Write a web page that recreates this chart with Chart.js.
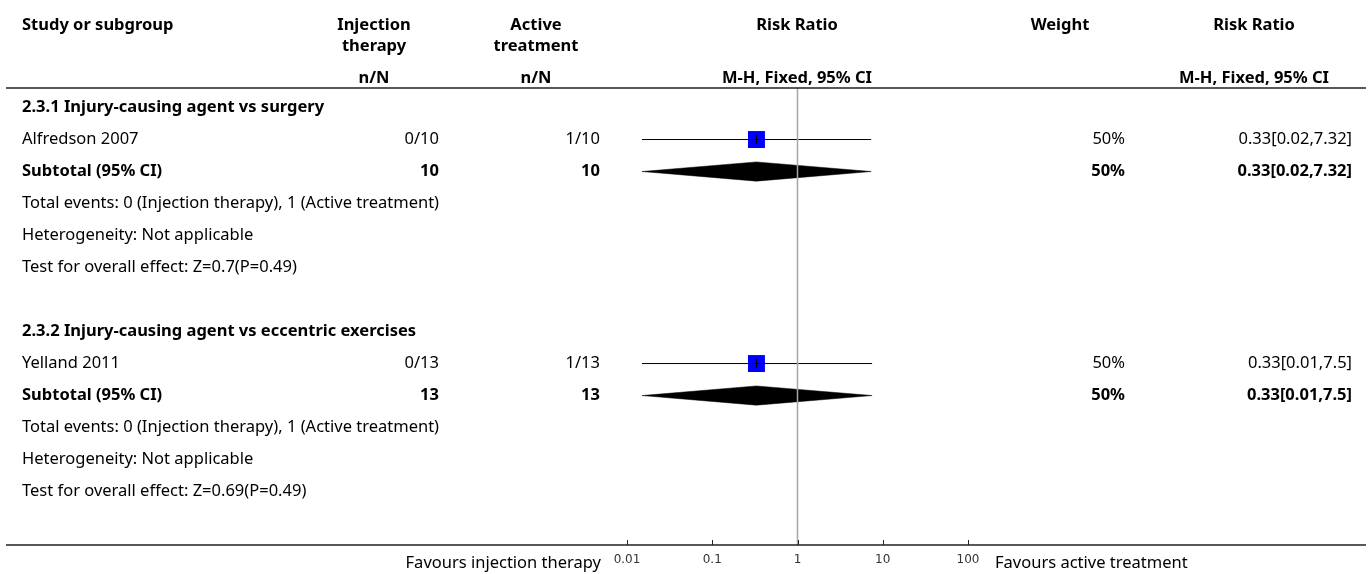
<!DOCTYPE html>
<html>
<head>
<meta charset="utf-8">
<script src="https://cdn.jsdelivr.net/npm/chart.js@4.4.0/dist/chart.umd.min.js"></script>
<style>
  html, body { margin: 0; padding: 0; background: #fff; }
</style>
</head>
<body>
<canvas id="forest" width="1370" height="574"></canvas>
<script>
// subgroups and studies
const groupTitles = ["2.3.1 Injury-causing agent vs surgery", "2.3.2 Injury-causing agent vs eccentric exercises"]
const studyNames = ["Alfredson 2007", "Yelland 2011"]
const injEvents = [0, 0]
const injTotals = [10, 13]
const actEvents = [1, 1]
const actTotals = [10, 13]
const studyWeights = ["50%", "50%"]
// risk ratio per study (point, lower, upper) and printed labels
const riskRatio = [0.33, 0.33]
const ciLower = [0.015, 0.015]
const ciUpper = [7.32, 7.5]
const ciLabels = ["0.33[0.02,7.32]", "0.33[0.01,7.5]"]
// subtotals
const subRatio = [0.33, 0.33]
const subLower = [0.015, 0.015]
const subUpper = [7.32, 7.5]
const subLabels = ["0.33[0.02,7.32]", "0.33[0.01,7.5]"]
const subWeights = ["50%", "50%"]
const heterogeneity = ["Heterogeneity: Not applicable", "Heterogeneity: Not applicable"]
const overallTests = ["Test for overall effect: Z=0.7(P=0.49)", "Test for overall effect: Z=0.69(P=0.49)"]
const tickValues = [0.01, 0.1, 1, 10, 100]

const ROWS_PER_GROUP = 7
const yMin = -0.61
const yMax = 13.67
const FONT = "'Noto Sans'"
const FS = 16.5

// build datasets
const datasets = []
datasets.push({
  label: "null line",
  data: [{ x: 1, y: yMin }, { x: 1, y: yMax }],
  showLine: true, borderColor: "#a6a6a6", borderWidth: 1.5, pointRadius: 0, order: 0,
})
studyNames.forEach(function (name, i) {
  const row = i * ROWS_PER_GROUP + 1
  datasets.push({
    label: name + " CI",
    data: [{ x: ciLower[i], y: row }, { x: ciUpper[i], y: row }],
    showLine: true, borderColor: "#000", borderWidth: 1, pointRadius: 0, order: 1,
  })
  datasets.push({
    label: name + " tick",
    data: [{ x: riskRatio[i], y: row }],
    pointStyle: "line", rotation: 90, pointRadius: 4.5, borderColor: "#000", borderWidth: 1, order: 1,
  })
  datasets.push({
    label: name,
    data: [{ x: riskRatio[i], y: row }],
    pointStyle: "rect", pointRadius: 12, backgroundColor: "#0000ff", borderWidth: 0, order: 2,
  })
  const srow = i * ROWS_PER_GROUP + 2
  datasets.push({
    label: "Subtotal " + i,
    data: [
      { x: subLower[i], y: srow },
      { x: subRatio[i], y: srow - 0.3 },
      { x: subUpper[i], y: srow },
      { x: subRatio[i], y: srow + 0.3 },
      { x: subLower[i], y: srow },
    ],
    showLine: true, fill: "shape", tension: 0, borderColor: "#000", borderWidth: 0.5,
    backgroundColor: "#000", pointRadius: 0, order: 2,
  })
})

const textPlugin = {
  id: "forestText",
  afterDraw(chart) {
    const ctx = chart.ctx
    const ys = chart.scales.y
    const xs = chart.scales.x
    const reg = FS + "px " + FONT
    const bold = "bold " + FS + "px " + FONT
    function txt(s, x, y, align, font) {
      ctx.font = font || reg
      ctx.textAlign = align
      ctx.textBaseline = "middle"
      ctx.fillStyle = "#000"
      ctx.fillText(s, x, y)
    }
    ctx.save()
    // header
    txt("Study or subgroup", 22, 25, "left", bold)
    txt("Injection", 374, 25, "center", bold)
    txt("therapy", 374, 46, "center", bold)
    txt("n/N", 374, 78, "center", bold)
    txt("Active", 536, 25, "center", bold)
    txt("treatment", 536, 46, "center", bold)
    txt("n/N", 536, 78, "center", bold)
    txt("Risk Ratio", 797, 25, "center", bold)
    txt("M-H, Fixed, 95% CI", 797, 78, "center", bold)
    txt("Weight", 1060, 25, "center", bold)
    txt("Risk Ratio", 1254, 25, "center", bold)
    txt("M-H, Fixed, 95% CI", 1254, 78, "center", bold)
    // rules
    ctx.strokeStyle = "#222"
    ctx.lineWidth = 1.5
    ctx.beginPath()
    ctx.moveTo(6, 88); ctx.lineTo(1366, 88)
    ctx.moveTo(6, chart.chartArea.bottom); ctx.lineTo(1366, chart.chartArea.bottom)
    ctx.stroke()
    ctx.lineWidth = 1
    ctx.beginPath()
    tickValues.forEach(function (v) {
      const px = Math.round(xs.getPixelForValue(v)) + 0.5
      ctx.moveTo(px, chart.chartArea.bottom)
      ctx.lineTo(px, chart.chartArea.bottom - 5)
    })
    ctx.stroke()
    // groups
    groupTitles.forEach(function (title, g) {
      const base = g * ROWS_PER_GROUP
      const y = function (r) { return ys.getPixelForValue(base + r) }
      txt(title, 22, y(0), "left", bold)
      txt(studyNames[g], 22, y(1), "left")
      txt(injEvents[g] + "/" + injTotals[g], 439, y(1), "right")
      txt(actEvents[g] + "/" + actTotals[g], 600, y(1), "right")
      txt(studyWeights[g], 1125, y(1), "right")
      txt(ciLabels[g], 1352, y(1), "right")
      txt("Subtotal (95% CI)", 22, y(2), "left", bold)
      txt(String(injTotals[g]), 439, y(2), "right", bold)
      txt(String(actTotals[g]), 600, y(2), "right", bold)
      txt(subWeights[g], 1125, y(2), "right", bold)
      txt(subLabels[g], 1352, y(2), "right", bold)
      txt("Total events: " + injEvents[g] + " (Injection therapy), " + actEvents[g] + " (Active treatment)", 22, y(3), "left")
      txt(heterogeneity[g], 22, y(4), "left")
      txt(overallTests[g], 22, y(5), "left")
    })
    txt("Favours injection therapy", 601, 563, "right")
    txt("Favours active treatment", 995, 563, "left")
    ctx.restore()
  },
}

new Chart(document.getElementById("forest"), {
  type: "scatter",
  data: { datasets: datasets },
  options: {
    responsive: false,
    animation: false,
    events: [],
    layout: { padding: { left: 627, right: 402, top: 88, bottom: 0 } },
    plugins: { legend: { display: false }, tooltip: { enabled: false } },
    scales: {
      x: {
        type: "logarithmic",
        min: 0.01,
        max: 100,
        grid: { display: false },
        border: { display: false },
        afterBuildTicks: function (scale) {
          scale.ticks = tickValues.map(function (v) { return { value: v } })
        },
        afterFit: function (scale) { scale.height = 29 },
        ticks: {
          autoSkip: false,
          maxRotation: 0,
          padding: 0,
          color: "#333",
          font: { family: "DejaVu Sans", size: 12 },
          callback: function (v) { return String(v) },
        },
      },
      y: {
        type: "linear",
        display: false,
        reverse: true,
        min: yMin,
        max: yMax,
      },
    },
  },
  plugins: [textPlugin],
})
</script>
</body>
</html>
